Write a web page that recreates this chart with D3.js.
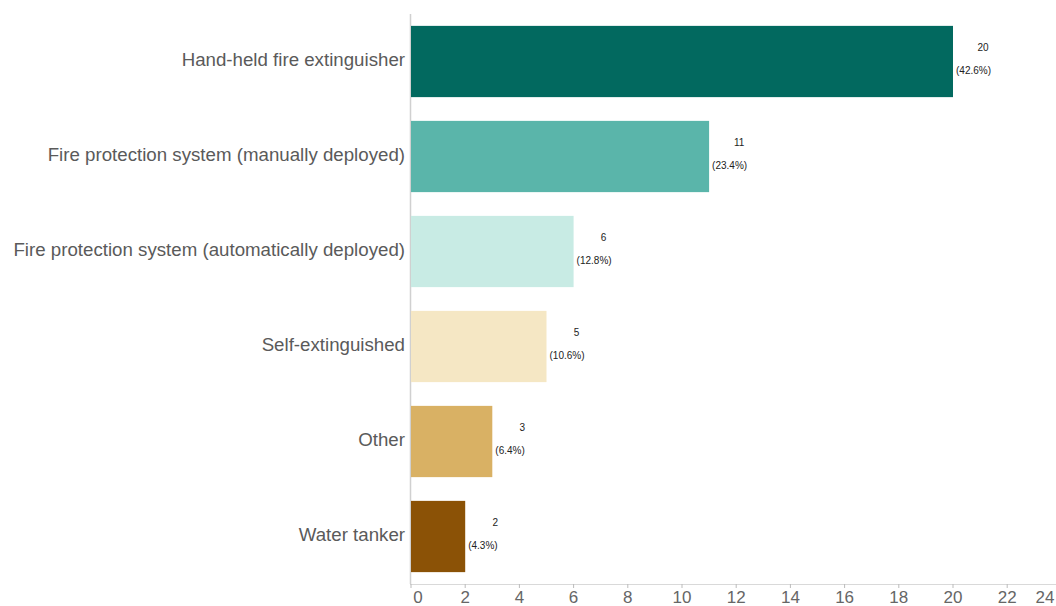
<!DOCTYPE html>
<html><head><meta charset="utf-8">
<script src="https://cdn.jsdelivr.net/npm/d3@7"></script>
<style>body{margin:0;background:#fff;font-family:"Liberation Sans",Arial,sans-serif;}</style>
</head><body><svg id="c" width="1056" height="606"></svg>
<script>
const categories = ["Hand-held fire extinguisher","Fire protection system (manually deployed)","Fire protection system (automatically deployed)","Self-extinguished","Other","Water tanker"];
const counts = [20, 11, 6, 5, 3, 2];
const percents = ["42.6%","23.4%","12.8%","10.6%","6.4%","4.3%"];
const colors = ["#02695f","#5ab5aa","#c8ebe4","#f5e7c4","#d9b164","#8b5206"];
const tickValues = [0,2,4,6,8,10,12,14,16,18,20,22,24];

(function(){
const svg = d3.select("#c");
const x0 = 411, plotTop = 14, plotBottom = 584;
const x = d3.scaleLinear().domain([0,24]).range([x0, x0 + 24*27.1]);
const y = d3.scaleBand().domain(categories).range([plotTop,plotBottom]).paddingInner(0.25).paddingOuter(0.125);

svg.append("line").attr("x1",x0-0.5).attr("x2",x0-0.5).attr("y1",plotTop).attr("y2",plotBottom).attr("stroke","#d0d0d0").attr("stroke-width",1.5);
svg.append("line").attr("x1",x0-1).attr("x2",1056).attr("y1",plotBottom+0.5).attr("y2",plotBottom+0.5).attr("stroke","#d9d9d9").attr("stroke-width",1);

svg.selectAll("rect.bar").data(categories).enter().append("rect")
  .attr("x", x(0)).attr("y", d=>y(d)).attr("height", y.bandwidth())
  .attr("width", (d,i)=>x(counts[i])-x(0)).attr("fill",(d,i)=>colors[i]);

svg.selectAll("text.cat").data(categories).enter().append("text")
  .attr("x", 405).attr("y", d=>y(d)+y.bandwidth()/2-2).attr("dy","0.35em")
  .attr("text-anchor","end").attr("font-size",18.7).attr("fill","#5a5a5a").text(d=>d);

svg.selectAll("text.num").data(categories).enter().append("text")
  .attr("x",(d,i)=>x(counts[i])+30).attr("y", d=>y(d)+25)
  .attr("text-anchor","middle").attr("font-size",10).attr("fill","#222").text((d,i)=>counts[i]);
svg.selectAll("text.pct").data(categories).enter().append("text")
  .attr("x",(d,i)=>x(counts[i])+3).attr("y", d=>y(d)+y.bandwidth()/2+12)
  .attr("font-size",10).attr("fill","#222").text((d,i)=>"("+percents[i]+")");

const tg = svg.append("g");
tickValues.forEach(v=>{
  const px = x(v);
  if (px <= 1056) tg.append("line").attr("x1",px).attr("x2",px).attr("y1",plotBottom).attr("y2",plotBottom+4).attr("stroke","#bbb");
  let lx = Math.min(Math.max(px, x0+7), 1045);
  tg.append("text").attr("x",lx).attr("y",plotBottom+19).attr("text-anchor","middle")
    .attr("font-size",17).attr("fill","#666").text(v);
});
})();
</script></body></html>
